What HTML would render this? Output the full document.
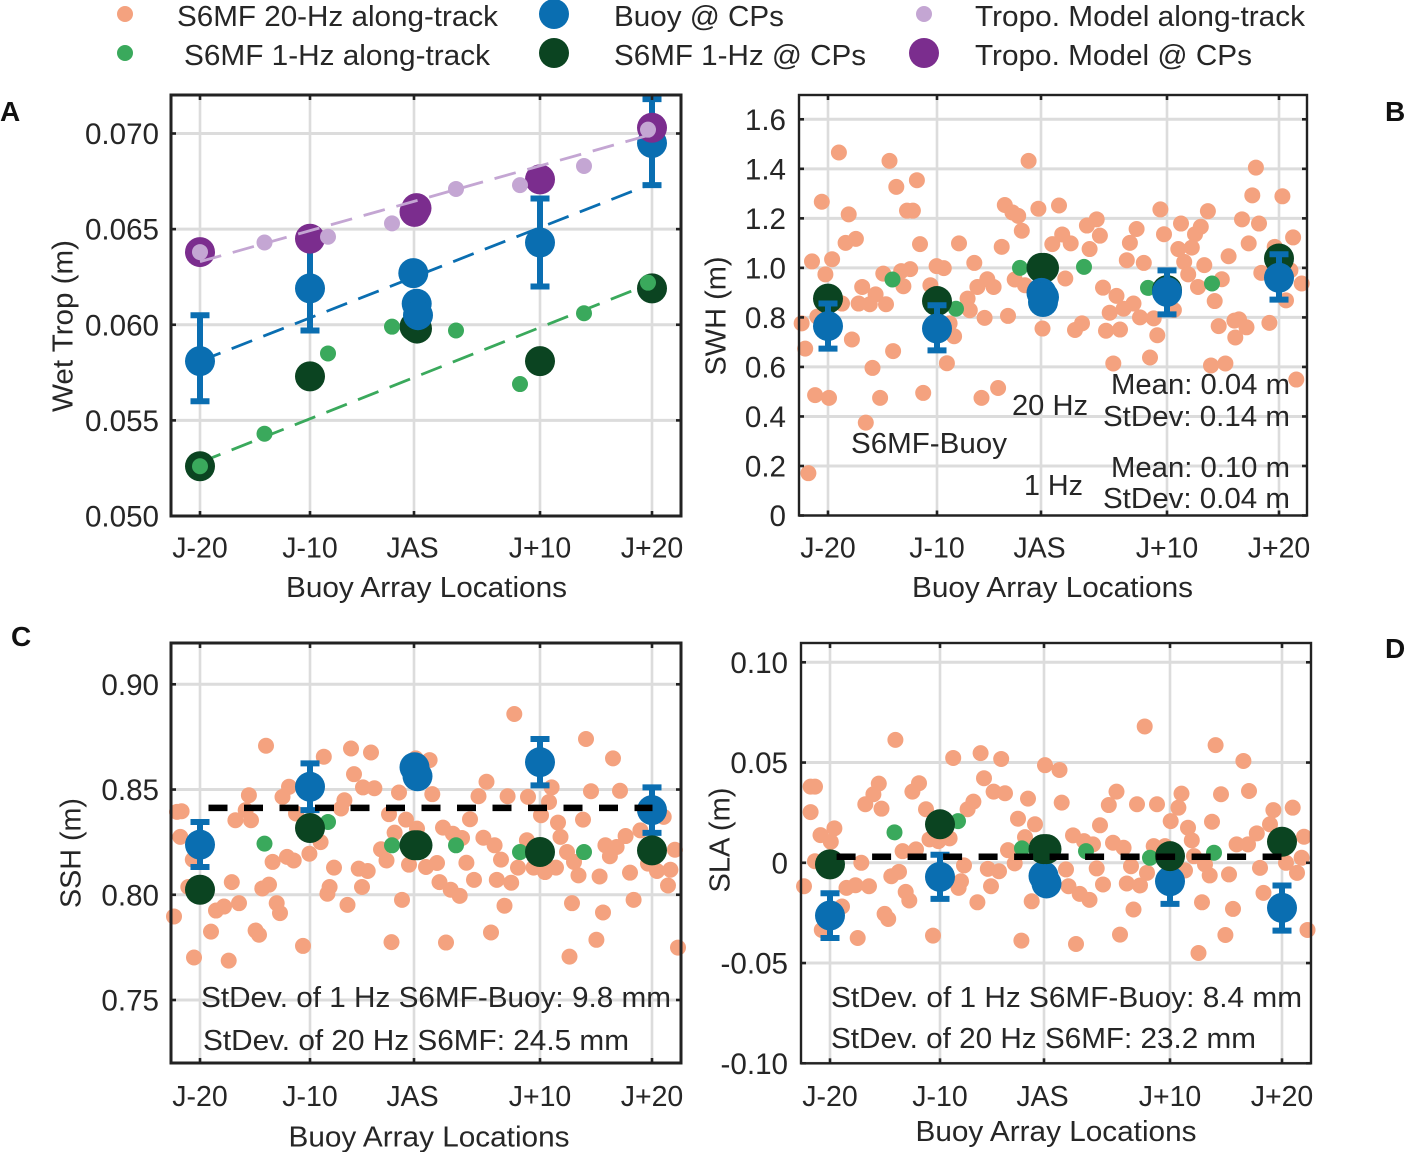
<!DOCTYPE html>
<html lang="en">
<head>
<meta charset="utf-8">
<title>S6MF validation chart</title>
<style>
html,body{margin:0;padding:0;background:#fff;}
svg{display:block;}
text{font-family:"Liberation Sans",Arial,sans-serif;fill:#262626;}
</style>
</head>
<body>
<svg id="chart" width="1406" height="1152" viewBox="0 0 1406 1152" xmlns="http://www.w3.org/2000/svg">
  <g>
    <circle cx="125" cy="14" r="8" fill="#f4a27f"/>
    <text x="177" y="26" font-size="29" textLength="321" lengthAdjust="spacingAndGlyphs">S6MF 20-Hz along-track</text>
    <circle cx="125" cy="53" r="8" fill="#3aa95c"/>
    <text x="184" y="65" font-size="29" textLength="306" lengthAdjust="spacingAndGlyphs">S6MF 1-Hz along-track</text>
    <circle cx="554" cy="14" r="15" fill="#0a6eb1"/>
    <text x="614" y="26" font-size="29" textLength="170" lengthAdjust="spacingAndGlyphs">Buoy @ CPs</text>
    <circle cx="554" cy="53" r="15" fill="#0b4421"/>
    <text x="614" y="65" font-size="29" textLength="252" lengthAdjust="spacingAndGlyphs">S6MF 1-Hz @ CPs</text>
    <circle cx="924" cy="14" r="8" fill="#c4a6d3"/>
    <text x="975" y="26" font-size="29" textLength="330" lengthAdjust="spacingAndGlyphs">Tropo. Model along-track</text>
    <circle cx="924" cy="53" r="15" fill="#7b2d8e"/>
    <text x="975" y="65" font-size="29" textLength="277" lengthAdjust="spacingAndGlyphs">Tropo. Model @ CPs</text>
  </g>
  <text x="0" y="121" font-size="28" font-weight="bold" style="fill:#111">A</text>
  <text x="1385" y="121" font-size="28" font-weight="bold" style="fill:#111">B</text>
  <text x="11" y="646" font-size="28" font-weight="bold" style="fill:#111">C</text>
  <text x="1385" y="658" font-size="28" font-weight="bold" style="fill:#111">D</text>
</svg>
<script>
// ---------- shared axis data ----------
const locationKm = [29, 139, 243, 369, 481];
const bLocationKm = [29, 138, 242, 368, 480];
const locationLabels = ['J-20', 'J-10', 'JAS', 'J+10', 'J+20'];
const trackKm1Hz = [29, 93.5, 157, 221, 285, 349, 413, 477];

// ---------- panel A: wet tropo ----------
const aTickValues = [0.050, 0.055, 0.060, 0.065, 0.070];
const aTickLabels = ['0.050', '0.055', '0.060', '0.065', '0.070'];
const aTropoTrack = [0.0638, 0.0643, 0.0646, 0.0653, 0.0671, 0.0673, 0.0683, 0.0702];
const aS6Track = [0.0526, 0.0543, 0.0585, 0.0599, 0.0597, 0.0569, 0.0606, 0.0622];
const aTropoCpKm = [29, 139, 243.5, 245.5, 369, 481];
const aTropoCp = [0.0638, 0.0645, 0.0659, 0.0661, 0.0676, 0.0703];
const aBuoyCpKm = [29, 139, 242.3, 245.7, 247, 369, 481];
const aBuoyCp = [0.0581, 0.0619, 0.0627, 0.0611, 0.0605, 0.0643, 0.0695];
const aBuoyTop = [0.0605, 0.0641, null, null, null, 0.0666, 0.0718];
const aBuoyBottom = [0.0560, 0.0597, null, null, null, 0.0620, 0.0673];
const aS6CpKm = [29, 139, 243.5, 246, 369, 481];
const aS6Cp = [0.0526, 0.0573, 0.0599, 0.0598, 0.0581, 0.0619];
const aFitKm = [29, 477];
const aFitTropo = [0.0633, 0.0699];
const aFitBuoy = [0.0581, 0.0673];
const aFitS6 = [0.0528, 0.0621];

// ---------- panel B: SWH ----------
const bTickValues = [0, 0.2, 0.4, 0.6, 0.8, 1.0, 1.2, 1.4, 1.6];
const bTickLabels = ['0', '0.2', '0.4', '0.6', '0.8', '1.0', '1.2', '1.4', '1.6'];
const b20HzKm = [39.9,90.5,229.6,97.3,117.9,22.8,49.7,108,113.9,205.8,213.4,219.2,239.4,260,297.7,287.9,222.8,46.6,56.9,121,160,202.7,253.3,263.2,271.7,290.6,300.9,13,33.1,26.4,84.3,102.2,111.2,104.4,137.6,144.8,131.4,175.3,188.3,178.4,194.6,63.2,76.6,59.6,70.8,87,43,215.7,226,266.3,327.8,330.9,337.6,344.8,361.4,365,382,408.9,401.8,396,392.8,379.3,385.2,389.2,405.3,429.6,399,422.8,415.7,443,460,449.7,453.3,456.9,483.4,494.1,462.3,475.7,491.4,502.7,487,304,317.5,334.5,324.6,310.7,168.6,170.8,185.6,209,2.65,6.2,18.3,52.9,94.1,73.5,16.1,30,81.1,66.8,9.4,124.2,147.9,155.1,150.6,182.5,199.1,243.5,283,276,307,321,341,354.7,358.3,351,314.3,412,426.4,419.7,435.4,440,447.5,436.3,470.4,497.3,374.9];
const b20HzValues = [1.466,1.432,1.432,1.327,1.354,1.267,1.216,1.231,1.231,1.254,1.224,1.21,1.239,1.252,1.196,1.171,1.15,1.101,1.117,1.096,1.099,1.085,1.096,1.135,1.099,1.076,1.13,1.026,1.035,0.974,0.977,0.987,0.995,0.926,1.007,0.999,0.93,1.02,0.954,0.923,0.923,0.923,0.893,0.856,0.853,0.853,0.856,0.953,0.93,0.957,1.031,1.101,1.157,1.02,1.236,1.136,1.179,1.229,1.166,1.136,1.082,1.076,1.024,0.974,1.011,1.047,0.923,0.954,0.866,1.196,1.179,1.099,1.293,1.405,1.289,1.123,0.98,1.085,0.99,0.937,0.869,0.92,0.887,0.856,0.835,0.819,0.876,0.829,0.798,0.806,0.776,0.674,0.803,0.711,0.664,0.596,0.486,0.475,0.475,0.375,0.171,0.495,0.615,0.724,0.776,0.475,0.515,0.755,0.776,0.749,0.746,0.751,0.8,0.796,0.728,0.638,0.614,0.606,0.614,0.765,0.787,0.792,0.76,0.719,0.778,0.549,0.83];
const b1HzTrack = [0.87, 0.953, 0.835, 1.0, 1.004, 0.919, 0.937, 1.03];
const bS6CpKm = [29, 138, 242.5, 245, 368, 480];
const bS6Cp = [0.876, 0.866, 1.0, 1.0, 0.91, 1.038];
const bBuoyCpKm = [29, 138, 242.5, 245, 244, 368, 480];
const bBuoyCp = [0.765, 0.755, 0.899, 0.882, 0.862, 0.903, 0.96];
const bBuoyTop = [0.856, 0.849, null, null, null, 0.99, 1.055];
const bBuoyBottom = [0.674, 0.667, null, null, null, 0.812, 0.872];

// ---------- panel C: SSH ----------
const cTickValues = [0.75, 0.80, 0.85, 0.90];
const cTickLabels = ['0.75', '0.80', '0.85', '0.90'];
const c20HzKm = [343.3,415,95,180,200,152.8,258.6,442,244.7,183,315.5,192,203.4,118,228,261.3,380.6,420,449,77.9,111.5,307.5,336.6,357,173.4,378,10.6,6,170,64.4,80,74.7,125,218,235,299,370,412,387,492.7,272,223.6,246,281.9,291,312.4,323.6,9.3,355.9,389.5,454.6,469.4,434.4,445.6,503.9,438.9,210,215.5,138.4,149.6,21.8,101.6,116,122.7,163,187.7,196.7,238,255,266,295.4,330,396,403,347,362.6,385,374,407.5,428.6,459,477,486,499.4,158.6,191,268.5,303,325.8,340.2,60.8,98,3,17.3,91.3,156.4,279.7,288.7,45,53,68,105.7,109,176.5,231,333.5,401,432,462.6,497,40,84.6,88,132,220.5,275,320,425.4,398.5,507,23,57.7];
const c20HzValues = [0.8859,0.874,0.8708,0.8695,0.8676,0.8656,0.864,0.8648,0.8648,0.8573,0.8537,0.851,0.8506,0.8513,0.8486,0.8478,0.851,0.8492,0.8494,0.8473,0.8465,0.8468,0.8468,0.8465,0.8449,0.8441,0.8397,0.8394,0.841,0.8354,0.8354,0.8402,0.8386,0.8383,0.8357,0.8359,0.8378,0.8357,0.8343,0.837,0.8319,0.8295,0.8314,0.829,0.827,0.8271,0.8235,0.8275,0.8259,0.8275,0.8279,0.8306,0.8235,0.8227,0.8214,0.8183,0.8216,0.8163,0.8195,0.825,0.8167,0.8156,0.818,0.8163,0.8129,0.8124,0.8113,0.8143,0.8132,0.8151,0.8152,0.8167,0.8203,0.8156,0.8129,0.8129,0.8129,0.8108,0.8092,0.8087,0.8105,0.8148,0.8113,0.8119,0.8037,0.8037,0.806,0.8071,0.8071,0.8057,0.806,0.8048,0.7897,0.8037,0.803,0.8005,0.8024,0.7995,0.7925,0.7944,0.796,0.796,0.7913,0.7952,0.7976,0.7948,0.796,0.7916,0.7976,0.8044,0.7825,0.783,0.781,0.7757,0.7775,0.7773,0.7821,0.7786,0.7706,0.7749,0.7702,0.7687];
const c1HzTrack = [0.8025, 0.8243, 0.8346, 0.8235, 0.8235, 0.8203, 0.8203, 0.821];
const cBuoyCpKm = [29, 139, 243.5, 246.5, 369, 481];
const cBuoyCp = [0.8238, 0.8513, 0.8606, 0.8563, 0.863, 0.8402];
const cBuoyTop = [0.8346, 0.8624, null, null, 0.874, 0.851];
const cBuoyBottom = [0.8132, 0.8402, null, null, 0.852, 0.8294];
const cS6CpKm = [29, 139, 243.5, 246.5, 369, 481];
const cS6Cp = [0.8024, 0.8317, 0.8235, 0.8235, 0.8203, 0.8211];
const cMeanKm = [37.5, 481.5];
const cMeanValues = [0.8413, 0.8413];

// ---------- panel D: SLA ----------
const dTickValues = [-0.10, -0.05, 0, 0.05, 0.10];
const dTickLabels = ['-0.10', '-0.05', '0', '0.05', '0.10'];
const d20HzKm = [343.7,94.4,414.6,179.6,200.2,152.2,244,258.5,442.4,183,9.6,14,77.8,118,111.4,72.4,192.6,204,315.5,380.5,420,448,227,260.7,307.8,336,356,64.3,80.5,9.6,125,172.4,166.6,377.4,472.4,491.7,217,299,369.7,411,234,387,33.4,19.5,29.8,272,224,283,292,312,322.6,390.8,435.6,447,455.8,469,503,128.5,137.4,148.6,101.6,115,207,352.7,364,393,500.6,60.3,14,213.7,163,330,404,459,485,186.8,198,265,295.7,384,346,496,90.3,98,408.7,428,3,45.5,54.5,68,104.7,160,190,267.5,302,325.8,339,462.5,108.3,157.6,176.4,230.7,278.7,288.5,332.5,401,432,41,83.6,87.2,132,56.7,20.8,220.4,275,319,397.5,424.4,506.5];
const d20HzValues = [0.068,0.0613,0.0587,0.0547,0.0518,0.0523,0.0487,0.0463,0.0508,0.0422,0.038,0.038,0.0395,0.0397,0.0355,0.0342,0.0355,0.0347,0.0355,0.0345,0.0342,0.0358,0.032,0.03,0.0288,0.0292,0.0292,0.0292,0.027,0.0253,0.0267,0.0305,0.0267,0.0275,0.0263,0.0275,0.022,0.0187,0.0208,0.0205,0.0192,0.0175,0.0172,0.0138,0.0105,0.0137,0.0128,0.0108,0.0092,0.01,0.0075,0.0112,0.0092,0.0092,0.0147,0.0192,0.013,0.0117,0.0108,0.0122,0.0058,0.0067,0.0063,0.0083,0.0083,0.0033,0.0025,0,0.0008,-0.0003,-0.0013,-0.0017,-0.0008,-0.0025,0,-0.003,-0.0042,-0.0033,-0.0028,-0.0038,-0.005,-0.005,-0.0067,-0.0045,-0.0063,-0.0058,-0.0117,-0.0125,-0.0112,-0.0117,-0.0145,-0.0092,-0.0117,-0.0117,-0.0108,-0.0103,-0.0113,-0.015,-0.0188,-0.0125,-0.0197,-0.0192,-0.0155,-0.0185,-0.0233,-0.0197,-0.023,-0.0218,-0.0255,-0.028,-0.0363,-0.0375,-0.0335,-0.0388,-0.0405,-0.0358,-0.045,-0.036,-0.0335];
const d1HzTrack = [0.0, 0.0152, 0.0208, 0.0072, 0.0058, 0.0025, 0.005, 0.0105];
const dBuoyCpKm = [29, 139, 242.5, 245.5, 369, 481];
const dBuoyCp = [-0.0263, -0.007, -0.0066, -0.0103, -0.0092, -0.0225];
const dBuoyTop = [-0.0152, 0.004, null, null, 0.0015, -0.0113];
const dBuoyBottom = [-0.0375, -0.018, null, null, -0.0205, -0.0338];
const dS6CpKm = [29, 139, 242.5, 245.5, 369, 481];
const dS6Cp = [-0.0008, 0.0192, 0.0068, 0.0068, 0.0033, 0.0105];
const dMeanKm = [35.6, 480.5];
const dMeanValues = [0.003, 0.003];

// ---------- colours ----------
const ORANGE = '#f4a27f', GREEN = '#3aa95c', DARK = '#0b4421', BLUE = '#0a6eb1', PURPLE = '#7b2d8e', LILAC = '#c4a6d3', INK = '#222222', GRID = '#dcdcdc';
const BIG = 15, SMALL = 8;
const SVGNS = 'http://www.w3.org/2000/svg';
const root = document.getElementById('chart');

function makeScale(d0, d1, r0, r1) {
  return function (v) { return r0 + (v - d0) * (r1 - r0) / (d1 - d0); };
}
function add(parent, tag, name) {
  const el = document.createElementNS(SVGNS, tag);
  
  
  parent.appendChild(el);
  return el;
}
function line(parent, name, x1, y1, x2, y2, color, width, dash) {
  const el = add(parent, 'line', name);
  el.setAttribute('x1', x1); el.setAttribute('y1', y1);
  el.setAttribute('x2', x2); el.setAttribute('y2', y2);
  el.setAttribute('stroke', color); el.setAttribute('stroke-width', width);
  if (dash) el.setAttribute('stroke-dasharray', dash);
  return el;
}
function label(parent, name, str, x, y, anchor, size, len) {
  const el = add(parent, 'text', name);
  el.textContent = str;
  el.setAttribute('x', x); el.setAttribute('y', y);
  el.setAttribute('text-anchor', anchor);
  el.setAttribute('font-size', size);
  if (len) { el.setAttribute('textLength', len); el.setAttribute('lengthAdjust', 'spacingAndGlyphs'); }
  return el;
}
function dots(parent, name, xs, ys, sx, sy, r, color) {
  for (let i = 0; i < ys.length; i++) {
    const c = add(parent, 'circle', name);
    c.setAttribute('cx', sx(xs[i]));
    c.setAttribute('cy', sy(ys[i]));
    c.setAttribute('r', r);
    c.setAttribute('fill', color);
  }
}
function errorBars(parent, name, xs, tops, bottoms, sx, sy) {
  for (let i = 0; i < tops.length; i++) {
    if (tops[i] === null) continue;
    const x = sx(xs[i]), t = sy(tops[i]), b = sy(bottoms[i]);
    line(parent, name, x, t, x, b, BLUE, 6);
    line(parent, name + '-cap-top', x - 9.5, t, x + 9.5, t, BLUE, 6);
    line(parent, name + '-cap-bottom', x - 9.5, b, x + 9.5, b, BLUE, 6);
  }
}
function axes(p) {
  const g = add(root, 'g', p.id);
  const sx = makeScale(0, 510, p.left, p.left + 510);
  const sy = makeScale(p.d0, p.d1, p.r0, p.r1);
  const grid = add(g, 'g', p.id + '-grid');
  p.ticks.forEach(function (v) { line(grid, 'y-gridline', p.left, sy(v), p.right, sy(v), GRID, 3); });
  p.loc.forEach(function (v) { line(grid, 'x-gridline', sx(v), p.top, sx(v), p.bottom, GRID, 2.6); });
  return { g: g, sx: sx, sy: sy };
}
function frame(p, a) {
  const g = add(a.g, 'g', p.id + '-axes');
  const box = add(g, 'rect', 'plot-frame');
  box.setAttribute('x', p.left); box.setAttribute('y', p.top);
  box.setAttribute('width', p.right - p.left); box.setAttribute('height', p.bottom - p.top);
  box.setAttribute('fill', 'none'); box.setAttribute('stroke', INK); box.setAttribute('stroke-width', p.frame);
  p.ticks.forEach(function (v, i) {
    line(g, 'y-tick', p.left, a.sy(v), p.left + 5, a.sy(v), INK, 2.6);
    line(g, 'y-tick', p.right - 5, a.sy(v), p.right, a.sy(v), INK, 2.6);
    label(g, 'y-tick-label', p.tickLabels[i], p.labelEnd, a.sy(v) + 10.5, 'end', 29.6);
  });
  p.loc.forEach(function (v, i) {
    line(g, 'x-tick', a.sx(v), p.top, a.sx(v), p.top + 5, INK, 2.6);
    line(g, 'x-tick', a.sx(v), p.bottom - 5, a.sx(v), p.bottom, INK, 2.6);
    label(g, 'x-tick-label', locationLabels[i], a.sx(v) - (i === 2 ? 1.5 : 0), p.xLabelY, 'middle', 28.5);
  });
  label(g, 'x-axis-title', 'Buoy Array Locations', p.xTitleX, p.xTitleY, 'start', 29, 281);
  const yt = label(g, 'y-axis-title', p.yTitle, 0, 0, 'middle', 29, p.yLen);
  yt.setAttribute('transform', 'translate(' + p.yTitleX + ',' + p.yTitleCy + ') rotate(-90)');
}
function annotate(a, list) {
  const g = add(a.g, 'g', 'annotations');
  list.forEach(function (t) { label(g, 'annotation', t[0], t[1], t[2], 'start', 29, t[3]); });
}

// ---------- panel A ----------
const pA = { id: 'panel-a', left: 171, right: 681, top: 95, bottom: 516, d0: 0.05, d1: 0.07, r0: 516, r1: 133.5, loc: locationKm, ticks: aTickValues, tickLabels: aTickLabels, labelEnd: 159, xLabelY: 557.5, xTitleX: 286, xTitleY: 597, yTitle: 'Wet Trop (m)', yTitleX: 72.5, yTitleCy: 326, yLen: 172, frame: 3 };
const A = axes(pA);
line(A.g, 'buoy-fit-line', A.sx(aFitKm[0]), A.sy(aFitBuoy[0]), A.sx(aFitKm[1]), A.sy(aFitBuoy[1]), BLUE, 2.8, '22 12');
line(A.g, 's6mf-fit-line-under', A.sx(aFitKm[0]), A.sy(aFitS6[0]), A.sx(aFitKm[1]), A.sy(aFitS6[1]), GREEN, 2.8, '22 12');
dots(A.g, 's6mf-1hz-cp-point', aS6CpKm, aS6Cp, A.sx, A.sy, BIG, DARK);
errorBars(A.g, 'buoy-error-bar', aBuoyCpKm, aBuoyTop, aBuoyBottom, A.sx, A.sy);
dots(A.g, 'buoy-cp-point', aBuoyCpKm, aBuoyCp, A.sx, A.sy, BIG, BLUE);
dots(A.g, 'tropo-cp-point', aTropoCpKm, aTropoCp, A.sx, A.sy, BIG, PURPLE);
dots(A.g, 's6mf-1hz-track-point', trackKm1Hz, aS6Track, A.sx, A.sy, SMALL, GREEN);
dots(A.g, 'tropo-track-point', trackKm1Hz, aTropoTrack, A.sx, A.sy, SMALL, LILAC);
line(A.g, 'tropo-fit-line', A.sx(aFitKm[0]), A.sy(aFitTropo[0]), A.sx(aFitKm[1]), A.sy(aFitTropo[1]), LILAC, 2.8, '22 12');
frame(pA, A);

// ---------- panel B ----------
const pB = { id: 'panel-b', left: 799, right: 1307, top: 95, bottom: 515.5, d0: 0, d1: 1.6, r0: 515.5, r1: 119.3, loc: bLocationKm, ticks: bTickValues, tickLabels: bTickLabels, labelEnd: 786, xLabelY: 557.5, xTitleX: 912, xTitleY: 597, yTitle: 'SWH (m)', yTitleX: 725.5, yTitleCy: 316, yLen: 119, frame: 2.4 };
const B = axes(pB);
dots(B.g, 's6mf-20hz-track-point', b20HzKm, b20HzValues, B.sx, B.sy, SMALL, ORANGE);
dots(B.g, 's6mf-1hz-track-point', trackKm1Hz, b1HzTrack, B.sx, B.sy, SMALL, GREEN);
dots(B.g, 's6mf-1hz-cp-point', bS6CpKm, bS6Cp, B.sx, B.sy, BIG, DARK);
dots(B.g, 'buoy-cp-point', bBuoyCpKm, bBuoyCp, B.sx, B.sy, BIG, BLUE);
errorBars(B.g, 'buoy-error-bar', bBuoyCpKm, bBuoyTop, bBuoyBottom, B.sx, B.sy);
frame(pB, B);
annotate(B, [
  ['Mean: 0.04 m', 1111, 394, 179],
  ['20 Hz', 1012, 415, 76],
  ['StDev: 0.14 m', 1103, 426, 187],
  ['S6MF-Buoy', 851, 453, 156],
  ['Mean: 0.10 m', 1111, 477, 179],
  ['1 Hz', 1024, 495, 59],
  ['StDev: 0.04 m', 1103, 508, 187]
]);

// ---------- panel C ----------
const pC = { id: 'panel-c', left: 171, right: 681, top: 643, bottom: 1063, d0: 0.75, d1: 0.90, r0: 1000, r1: 684.3, loc: locationKm, ticks: cTickValues, tickLabels: cTickLabels, labelEnd: 159, xLabelY: 1106, xTitleX: 288.5, xTitleY: 1146.5, yTitle: 'SSH (m)', yTitleX: 80.5, yTitleCy: 853, yLen: 110, frame: 3 };
const C = axes(pC);
dots(C.g, 's6mf-20hz-track-point', c20HzKm, c20HzValues, C.sx, C.sy, SMALL, ORANGE);
dots(C.g, 's6mf-1hz-track-point', trackKm1Hz, c1HzTrack, C.sx, C.sy, SMALL, GREEN);
dots(C.g, 'buoy-cp-point', cBuoyCpKm, cBuoyCp, C.sx, C.sy, BIG, BLUE);
errorBars(C.g, 'buoy-error-bar', cBuoyCpKm, cBuoyTop, cBuoyBottom, C.sx, C.sy);
dots(C.g, 's6mf-1hz-cp-point', cS6CpKm, cS6Cp, C.sx, C.sy, BIG, DARK);
line(C.g, 'mean-ssh-line', C.sx(cMeanKm[0]), C.sy(cMeanValues[0]), C.sx(cMeanKm[1]), C.sy(cMeanValues[1]), '#000', 6.5, '19 16.5');
frame(pC, C);
annotate(C, [
  ['StDev. of 1 Hz S6MF-Buoy: 9.8 mm', 201, 1007, 470],
  ['StDev. of 20 Hz S6MF: 24.5 mm', 203, 1050, 426]
]);

// ---------- panel D ----------
const pD = { id: 'panel-d', left: 801, right: 1311, top: 643, bottom: 1063.3, d0: -0.10, d1: 0.10, r0: 1063.3, r1: 662.3, loc: locationKm, ticks: dTickValues, tickLabels: dTickLabels, labelEnd: 788, xLabelY: 1106, xTitleX: 915.5, xTitleY: 1141, yTitle: 'SLA (m)', yTitleX: 729.5, yTitleCy: 840, yLen: 105, frame: 2.4 };
const D = axes(pD);
dots(D.g, 's6mf-20hz-track-point', d20HzKm, d20HzValues, D.sx, D.sy, SMALL, ORANGE);
dots(D.g, 's6mf-1hz-track-point', trackKm1Hz, d1HzTrack, D.sx, D.sy, SMALL, GREEN);
dots(D.g, 'buoy-cp-point', dBuoyCpKm, dBuoyCp, D.sx, D.sy, BIG, BLUE);
errorBars(D.g, 'buoy-error-bar', dBuoyCpKm, dBuoyTop, dBuoyBottom, D.sx, D.sy);
dots(D.g, 's6mf-1hz-cp-point', dS6CpKm, dS6Cp, D.sx, D.sy, BIG, DARK);
line(D.g, 'mean-sla-line', D.sx(dMeanKm[0]), D.sy(dMeanValues[0]), D.sx(dMeanKm[1]), D.sy(dMeanValues[1]), '#000', 6.5, '19 16.5');
frame(pD, D);
annotate(D, [
  ['StDev. of 1 Hz S6MF-Buoy: 8.4 mm', 831, 1007, 471],
  ['StDev. of 20 Hz S6MF: 23.2 mm', 831, 1048, 425]
]);
</script>
</body>
</html>
